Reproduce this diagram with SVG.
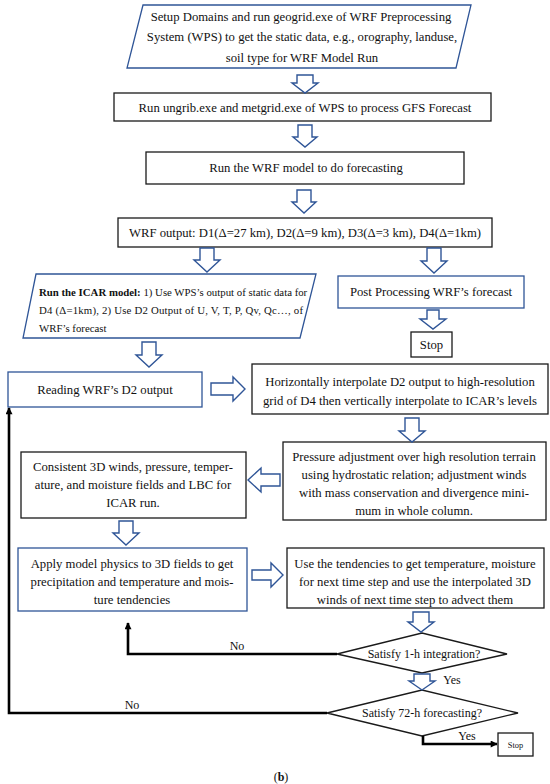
<svg xmlns="http://www.w3.org/2000/svg" width="550" height="784" viewBox="0 0 550 784">
<defs>
<style>
.t{font-family:"Liberation Serif","Times New Roman",serif;font-size:12.7px;fill:#111;text-anchor:middle}
.s{font-family:"Liberation Serif","Times New Roman",serif;font-size:10.8px;fill:#111}
.d{font-family:"Liberation Serif","Times New Roman",serif;font-size:12px;fill:#111;text-anchor:middle}
.bb{fill:#fff;stroke:#2F5597;stroke-width:1.3}
.kb{fill:#fff;stroke:#1a1a1a;stroke-width:1.3}
.ba{fill:#fff;stroke:#2F5597;stroke-width:1.4;stroke-linejoin:miter}
.ln{fill:none;stroke:#000;stroke-width:2.6}
</style>
<marker id="ah" viewBox="0 0 10 10" refX="9" refY="5" markerWidth="8" markerHeight="7" markerUnits="userSpaceOnUse" orient="auto">
<path d="M0,0 L10,5 L0,10 Z" fill="#000"/>
</marker>
</defs>
<rect width="550" height="784" fill="#fff"/>

<g id="n1">
<polygon class="bb" points="143,5 471,5 456,68 127,68"/>
<text class="t" x="301" y="21">Setup Domains and run geogrid.exe of WRF Preprocessing</text>
<text class="t" x="302" y="41">System (WPS) to get the static data, e.g., orography, landuse,</text>
<text class="t" x="302" y="62">soil type for WRF Model Run</text>
</g>
<g id="n2">
<rect class="kb" x="114" y="93" width="377" height="28"/>
<text class="t" x="305" y="111.5">Run ungrib.exe and metgrid.exe of WPS to process GFS Forecast</text>
</g>
<g id="n3">
<rect class="kb" x="146" y="152" width="318" height="32"/>
<text class="t" x="306" y="172">Run the WRF model to do forecasting</text>
</g>
<g id="n4">
<rect class="kb" x="118" y="218" width="374" height="29"/>
<text class="t" x="305" y="236.5">WRF output: D1(Δ=27 km), D2(Δ=9 km), D3(Δ=3 km), D4(Δ=1km)</text>
</g>
<g id="n5">
<polygon class="bb" points="36,274 316,274 300,338 23,338"/>
<text class="s" x="39" y="296"><tspan font-weight="bold">Run the ICAR model:</tspan> 1) Use WPS’s output of static data for</text>
<text class="s" x="39" y="314" textLength="264" lengthAdjust="spacing">D4 (Δ=1km), 2) Use D2 Output of U, V, T, P, Qv, Qc…, of</text>
<text class="s" x="39" y="332">WRF’s forecast</text>
</g>
<g id="n6">
<rect class="bb" x="338" y="276" width="186" height="32"/>
<text class="t" x="431" y="296">Post Processing WRF’s forecast</text>
</g>
<g id="n7">
<rect class="kb" x="411" y="332" width="41" height="25"/>
<text class="t" x="431.5" y="349">Stop</text>
</g>
<g id="n8">
<rect class="bb" x="8" y="372" width="194" height="35"/>
<text class="t" x="105" y="394">Reading WRF’s D2 output</text>
</g>
<g id="n9">
<rect class="kb" x="252" y="364" width="296" height="50"/>
<text class="t" x="400" y="386">Horizontally interpolate D2 output to high-resolution</text>
<text class="t" x="400" y="405">grid of D4 then vertically interpolate to ICAR’s levels</text>
</g>
<g id="n10">
<rect class="kb" x="283" y="442" width="263" height="78"/>
<text class="t" x="414" y="461">Pressure adjustment over high resolution terrain</text>
<text class="t" x="414" y="479">using hydrostatic relation; adjustment winds</text>
<text class="t" x="414" y="497">with mass conservation and divergence mini-</text>
<text class="t" x="414" y="515">mum in whole column.</text>
</g>
<g id="n11">
<rect class="kb" x="21" y="452" width="225" height="66"/>
<text class="t" x="133" y="471">Consistent 3D winds, pressure, temper-</text>
<text class="t" x="133" y="489">ature, and moisture fields and LBC for</text>
<text class="t" x="133" y="507">ICAR run.</text>
</g>
<g id="n12">
<rect class="bb" x="18" y="548" width="229" height="63"/>
<text class="t" x="132" y="568">Apply model physics to 3D fields to get</text>
<text class="t" x="132" y="586">precipitation and temperature and mois-</text>
<text class="t" x="132" y="604">ture tendencies</text>
</g>
<g id="n13">
<rect class="kb" x="287" y="548" width="257" height="60"/>
<text class="t" x="415" y="568">Use the tendencies to get temperature, moisture</text>
<text class="t" x="415" y="586">for next time step and use the interpolated 3D</text>
<text class="t" x="415" y="604">winds of next time step to advect them</text>
</g>
<g id="n14">
<polygon class="kb" points="337,654 422,633 507,654 422,673"/>
<text class="d" x="424" y="658">Satisfy 1-h integration?</text>
</g>
<g id="n15">
<polygon class="kb" points="327,713 422,690 518,713 422,736"/>
<text class="d" x="422" y="717">Satisfy 72-h forecasting?</text>
</g>
<g id="n16">
<rect class="kb" x="498" y="733" width="35" height="23"/>
<text class="t" x="515.5" y="747.5" style="font-size:8.4px">Stop</text>
</g>

<g id="connectors">
<path class="ba" d="M297,75 L313,75 L313,83 L318,83 L305,93 L292,83 L297,83 Z"/>
<path class="ba" d="M298,125 L312,125 L312,137 L317,137 L305,147 L293,137 L298,137 Z"/>
<path class="ba" d="M297,190 L311,190 L311,202 L316,202 L304,213 L292,202 L297,202 Z"/>
<path class="ba" d="M200,248 L214,248 L214,260 L220,260 L207,272 L194,260 L200,260 Z"/>
<path class="ba" d="M427,248 L441,248 L441,261 L447,261 L434,273 L421,261 L427,261 Z"/>
<path class="ba" d="M427,310 L439,310 L439,319 L446,319 L433,329 L420,319 L427,319 Z"/>
<path class="ba" d="M142,342 L156,342 L156,355 L162,355 L149,367 L136,355 L142,355 Z"/>
<path class="ba" d="M211,383 L233,383 L233,377 L245,389 L233,401 L233,395 L211,395 Z"/>
<path class="ba" d="M405,418 L419,418 L419,431 L425,431 L412,442 L399,431 L405,431 Z"/>
<path class="ba" d="M280,474 L261,474 L261,468 L248,480 L261,492 L261,486 L280,486 Z"/>
<path class="ba" d="M119,521 L133,521 L133,533 L139,533 L126,545 L113,533 L119,533 Z"/>
<path class="ba" d="M252,570 L271,570 L271,563 L283,575 L271,587 L271,580 L252,580 Z"/>
<path class="ba" d="M413,612 L429,612 L429,622 L434,622 L421,632 L408,622 L413,622 Z"/>
<path class="ba" d="M414,674 L430,674 L430,681 L435,681 L422,690 L409,681 L414,681 Z"/>
<polyline class="ln" points="337,654 128,654 128,623" marker-end="url(#ah)"/>
<polyline class="ln" points="327,713 9,713 9,408" marker-end="url(#ah)"/>
<polyline class="ln" points="423,736 423,744 497,744" marker-end="url(#ah)"/>
<text class="d" x="237" y="650">No</text>
<text class="d" x="132" y="709">No</text>
<text class="d" x="452" y="684">Yes</text>
<text class="d" x="467" y="740">Yes</text>
</g>
<text class="d" x="281" y="781">(<tspan font-weight="bold">b</tspan>)</text>
</svg>
